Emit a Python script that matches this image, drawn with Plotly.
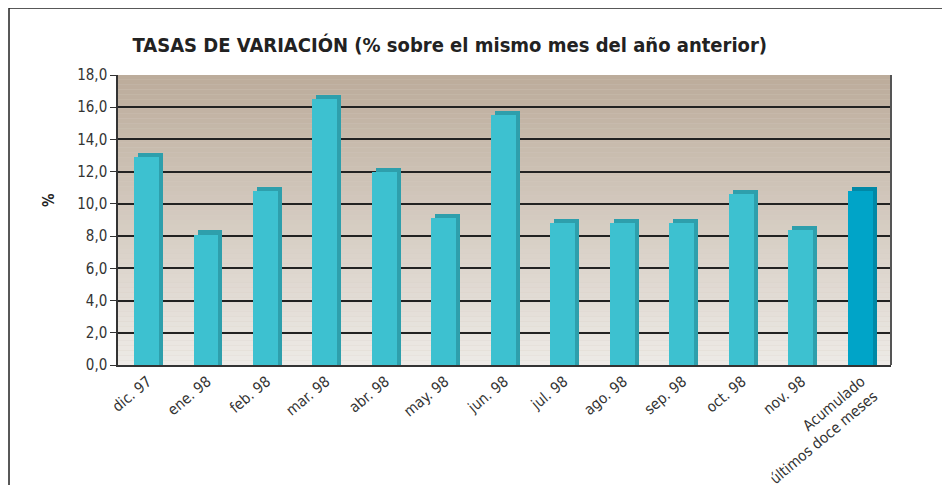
import plotly.graph_objects as go

categories = ['dic. 97', 'ene. 98', 'feb. 98', 'mar. 98', 'abr. 98', 'may. 98', 'jun. 98',
              'jul. 98', 'ago. 98', 'sep. 98', 'oct. 98', 'nov. 98',
              'Acumulado<br>últimos doce meses']
values = [12.9, 8.1, 10.8, 16.5, 12.0, 9.1, 15.5, 8.8, 8.8, 8.8, 10.6, 8.4, 10.8]
y_ticks = [0, 2, 4, 6, 8, 10, 12, 14, 16, 18]

front_colors = ['#3dc1d0'] * 12 + ['#00a4c8']
side_colors = ['#2e9fac'] * 12 + ['#0088a6']

FONT = 'DejaVu Sans Condensed, Liberation Sans Narrow, Liberation Sans, sans-serif'

fig = go.Figure()

# fake 3d: darker bar shifted a bit to the right and up, front bar on top
fig.add_trace(go.Bar(x=categories, y=[v + 0.25 for v in values], width=0.42, offset=-0.163,
                     marker=dict(color=side_colors, line_width=0), hoverinfo='skip'))
fig.add_trace(go.Bar(x=categories, y=values, width=0.42, offset=-0.23,
                     marker=dict(color=front_colors, line_width=0)))

# background gradient, drawn as thin strips under the grid
shapes = []
n = 60
top_rgb = (188, 172, 155)
bot_rgb = (237, 234, 230)
for i in range(n):
    t = i / (n - 1)
    c = tuple(int(round(bot_rgb[k] + (top_rgb[k] - bot_rgb[k]) * t)) for k in range(3))
    shapes.append(dict(type='rect', xref='x domain', yref='y', x0=0, x1=1,
                       y0=18 * i / n, y1=18 * (i + 1) / n, layer='below',
                       fillcolor='rgb(%d,%d,%d)' % c, line_width=0))
# right edge of the plot area
shapes.append(dict(type='line', xref='x domain', yref='y', x0=1, x1=1, y0=0, y1=18,
                   line=dict(color='#555555', width=2)))
# outer frame
shapes.append(dict(type='rect', xref='paper', yref='paper', x0=-0.141, x1=1.067, y0=-0.45, y1=1.231,
                   line=dict(color='#222222', width=1.5), fillcolor='rgba(0,0,0,0)'))

# page body has an 8px margin, so the figure is a bit smaller than the window
fig.update_layout(
    width=942, height=477,
    margin=dict(l=110, r=59, t=67, b=120, autoexpand=False),
    paper_bgcolor='white',
    plot_bgcolor='#d6cdc3',
    barmode='overlay',
    bargap=0,
    showlegend=False,
    separators=',.',
    shapes=shapes,
    font=dict(family=FONT, color='#333333'),
    title=dict(text='<b>TASAS DE VARIACIÓN (% sobre el mismo mes del año anterior)</b>',
               x=0.469, xref='container', xanchor='center', y=0.922, yanchor='middle',
               font=dict(size=20, color='#222222')),
    annotations=[dict(text='<b>%</b>', xref='paper', yref='paper', x=-0.1035, y=0.569,
                      textangle=-90, showarrow=False, font=dict(size=15, color='#222222'))],
)

fig.update_xaxes(showline=True, linecolor='#333333', linewidth=2, tickangle=-40,
                 tickfont=dict(size=15, color='#333333'), showgrid=False, ticks='')
fig.update_yaxes(range=[0, 18], tickvals=y_ticks, tickformat='.1f', showline=True,
                 linecolor='#333333', linewidth=1.5, ticks='outside', ticklen=6, tickcolor='#333333',
                 gridcolor='#222222', gridwidth=1.5, tickfont=dict(size=15, color='#333333'),
                 zeroline=False)

fig.write_html('out.html')
